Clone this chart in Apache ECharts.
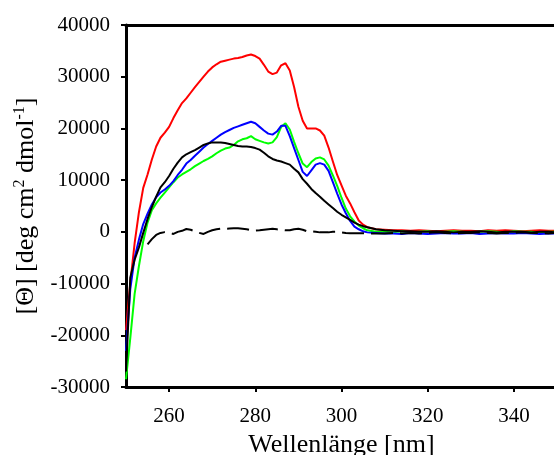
<!DOCTYPE html>
<html>
<head>
<meta charset="utf-8">
<script src="https://cdn.jsdelivr.net/npm/echarts@6/dist/echarts.min.js"></script>
<style>
html,body{margin:0;padding:0;background:#fff;}
#chart{width:554px;height:455px;}
</style>
</head>
<body>
<div id="chart"></div>
<script>
const wavelengths = [
  250,251,252,253,254,255,256,257,258,259,
  260,261,262,263,264,265,266,267,268,269,
  270,271,272,273,274,275,276,277,278,279,
  280,281,282,283,284,285,286,287,288,289,
  290,291,292,293,294,295,296,297,298,299,
  300,301,302,303,304,305,306,
  308,310,312,314,316,318,320,322,324,326,328,
  330,332,334,336,338,340,342,344,346,348,350
];
const redValues = [
  -19000,-9800,-2200,3800,8500,11100,14000,16500,18200,19200,
  20300,22000,23500,24900,25800,26900,28000,29000,30000,31000,
  31800,32400,32900,33100,33300,33500,33600,33800,34100,34300,
  34000,33500,32300,31000,30500,30800,32200,32600,31200,28000,
  24200,21500,20000,20000,20000,19600,18600,16300,13600,11000,
  9000,7000,5500,3800,2200,1400,900,
  500,400,300,300,200,300,200,100,200,300,200,
  200,100,300,200,300,200,100,200,300,200,200
];
const greenValues = [
  -28500,-20500,-12000,-6600,-1800,1800,4200,5500,6600,7600,
  8600,9600,10500,11100,11600,12100,12700,13200,13700,14100,
  14600,15200,15700,16100,16300,16800,17500,17900,18100,18500,
  17900,17600,17300,17100,17300,18300,20300,21000,19800,17400,
  15200,13200,12500,13500,14200,14400,14000,12800,10900,8900,
  6600,4500,3000,2000,1200,700,300,
  0,0,-100,100,-100,0,100,-100,0,100,0,
  -100,0,100,0,-100,100,0,0,-100,0,0
];
const blueValues = [
  -23000,-11000,-5000,-1500,1500,3500,5300,6700,7600,8200,
  8900,9800,11000,12000,13200,13900,14700,15500,16300,17000,
  17600,18200,18800,19300,19700,20100,20400,20700,21000,21300,
  21000,20300,19600,19000,18800,19400,20500,20500,18500,16200,
  13900,11600,10800,11900,13000,13300,13000,11800,9600,7400,
  5300,3600,2100,1000,500,100,-100,
  -200,-300,-300,-400,-200,-300,-400,-300,-200,-300,-300,
  -200,-400,-300,-200,-300,-300,-200,-300,-400,-300,-300
];
const blackValues = [
  -27000,-8800,-5400,-3000,-200,2500,4800,6800,8600,9600,
  10800,12200,13400,14400,15000,15400,15800,16300,16800,17100,
  17300,17300,17300,17200,17000,16800,16600,16500,16500,16400,
  16200,15900,15300,14600,14100,13800,13600,13300,13000,12200,
  11500,10200,9300,8300,7500,6800,6000,5300,4600,3900,
  3300,2800,2300,1800,1400,1100,900,
  500,300,200,100,100,0,0,100,0,-100,0,
  0,100,0,-100,0,0,0,-100,0,0,-100
];
const dashedValues = [
  null,null,null,null,null,-2400,-1400,-600,-200,-50,
  -200,-400,0,200,550,400,100,-200,-400,0,
  300,500,600,600,650,700,700,600,500,300,
  250,300,400,500,600,500,400,300,300,500,
  600,400,100,100,0,-100,-100,-100,0,0,
  -100,-200,-250,-250,-250,-250,-300,
  -300,-300,-200,-300,-200,-300,-200,-100,-200,-300,-200,
  -200,-100,-200,-300,-200,-200,-100,-200,-200,-300,-200
];
const xTickValues = [260,280,300,320,340];
const xAxisTitle = 'Wellenlänge [nm]';

function pairs(vals){ return wavelengths.map((w,i)=>[w, vals[i]]); }

const chart = echarts.init(document.getElementById('chart'), null, {renderer:'canvas'});
const serif = '"Liberation Serif", "Times New Roman", serif';
function lineSeries(name, vals, color, dashed){
  return {
    name, type:'line', data: pairs(vals), showSymbol:false, symbol:'none',
    connectNulls:false, smooth:false, animation:false,
    lineStyle:{color, width:2, type: dashed ? [22,7] : 'solid'},
    itemStyle:{color}
  };
}
chart.setOption({
  animation:false,
  backgroundColor:'#fff',
  grid:{left:126, top:25, width:431, height:362, show:false, containLabel:false, outerBoundsMode:'none'},
  xAxis:[{
    type:'value', min:250, max:350,
    name:xAxisTitle, nameLocation:'middle', nameGap:39,
    nameTextStyle:{fontFamily:serif, fontSize:26, color:'#000'},
    axisLine:{show:true, onZero:false, lineStyle:{color:'#000', width:3}},
    axisTick:{show:true, inside:false, length:5, lineStyle:{color:'#000', width:2}, customValues:xTickValues},
    axisLabel:{fontFamily:serif, fontSize:21, color:'#000', margin:19, customValues:xTickValues},
    splitLine:{show:false}
  },{
    type:'value', min:250, max:350, position:'top',
    axisLine:{show:true, onZero:false, lineStyle:{color:'#000', width:3}},
    axisTick:{show:false}, axisLabel:{show:false}, splitLine:{show:false}
  }],
  yAxis:{
    type:'value', min:-30000, max:40000, interval:10000,
    name:'[Θ] [deg cm{sup|2} dmol{sup|-1}]', nameLocation:'middle', nameGap:70,
    nameTextStyle:{fontFamily:serif, fontSize:26, color:'#000',
      rich:{sup:{fontFamily:serif, fontSize:16, color:'#000', verticalAlign:'top', lineHeight:30}}},
    axisLine:{show:true, onZero:false, lineStyle:{color:'#000', width:3}},
    axisTick:{show:true, inside:false, length:5, lineStyle:{color:'#000', width:2}},
    axisLabel:{fontFamily:serif, fontSize:21, color:'#000', margin:16, formatter:(v)=>String(v)},
    splitLine:{show:false}
  },
  series:[
    lineSeries('red', redValues, '#ff0000'),
    lineSeries('green', greenValues, '#00ff00'),
    lineSeries('blue', blueValues, '#0000ff'),
    lineSeries('black', blackValues, '#000000'),
    lineSeries('dashed', dashedValues, '#000000', true)
  ]
});
</script>
</body>
</html>
